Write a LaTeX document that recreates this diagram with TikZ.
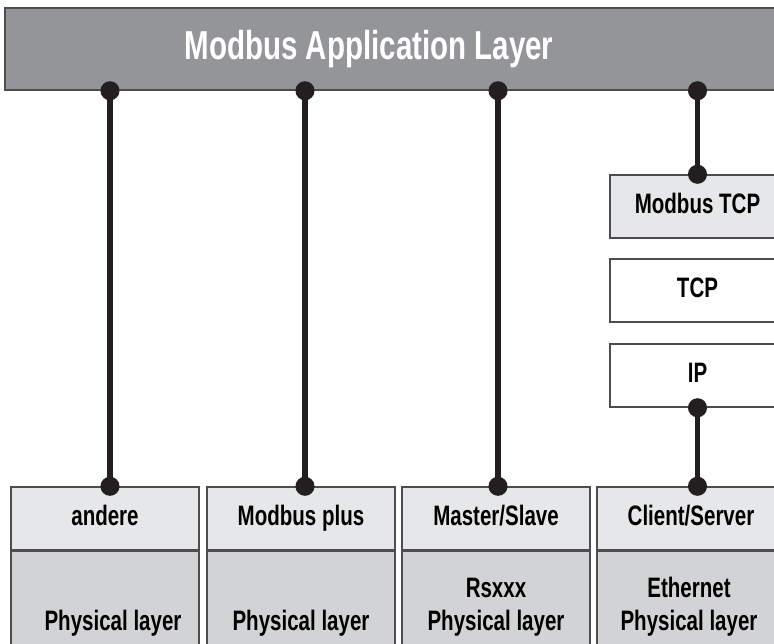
\documentclass[tikz,border=0pt]{standalone}
\usepackage{fontspec}
\setmainfont{Liberation Sans}[FakeStretch=0.73]
\usepackage{tikz}
\usetikzlibrary{arrows.meta}
\definecolor{bargray}{HTML}{939598}
\definecolor{paleface}{HTML}{E6E7E8}
\definecolor{physface}{HTML}{D1D3D4}
\definecolor{rimgray}{HTML}{4D4D4F}
\definecolor{wireblack}{HTML}{231F20}
\newcommand{\lblsize}{\fontsize{16}{19}\selectfont}

\begin{document}
\begin{tikzpicture}[x=0.02cm,y=-0.02cm,font=\bfseries\lblsize,
  box/.style={draw=rimgray,line width=0.85pt,inner sep=0pt,minimum height=1.26cm,
    text height=11.5pt,text depth=3.5pt},
  protobox/.style={box,fill=paleface,minimum width=3.76cm},
  physbox/.style={box,fill=physface,minimum width=3.76cm,minimum height=2.2cm,anchor=north},
  stackbox/.style={box,minimum width=3.5cm},
  link/.style={draw=wireblack,line width=3pt,{Circle[length=10.8pt]}-{Circle[length=10.8pt]},
    shorten <=-5.4pt,shorten >=-5.4pt}]
  \useasboundingbox (0,0) rectangle (774,643);
  % application layer
  \node[box,fill=bargray,minimum width=15.5cm,minimum height=1.64cm] (app) at (392.5,49) {};
  \node[text=white,font=\bfseries\fontsize{23}{27}\selectfont] (apptext) at (369,49) {Modbus Application Layer};
  % lower stack
  \node[protobox] (andere) at (105,518.5) {andere};
  \node[protobox] (plus)   at (301,518.5) {Modbus plus};
  \node[protobox] (master) at (496,518.5) {Master/Slave};
  \node[protobox] (client) at (691,518.5) {Client/Server};
  \foreach \n in {andere,plus,master,client}
    \node[physbox] (\n-phys) at (\n.south) {};
  \node[anchor=base] (phys1) at (113,630) {Physical layer};
  \node[anchor=base] (phys2) at (301,630) {Physical layer};
  \node[anchor=base] (phys3) at (496,630) {Physical layer};
  \node[anchor=base] (rs)    at (496,597) {Rsxxx};
  \node[anchor=base] (phys4) at (689,630) {Physical layer};
  \node[anchor=base] (eth)   at (689,597) {Ethernet};
  % TCP/IP stack
  \node[stackbox,fill=paleface] (mtcp) at (697.5,206.5) {Modbus TCP};
  \node[stackbox,fill=white]    (tcp)  at (697.5,290.5) {TCP};
  \node[stackbox,fill=white]    (ip)   at (697.5,375.5) {IP};
  % connectors
  \foreach \n/\dx in {andere/5,plus/4,master/2}
    \draw[link] ([xshift=\dx*0.02cm]\n.north |- app.south) -- ([xshift=\dx*0.02cm]\n.north);
  \draw[link] (app.south -| mtcp.north) -- (mtcp.north);
  \draw[link] (ip.south) -- (ip.south |- client.north);
\end{tikzpicture}
\end{document}
